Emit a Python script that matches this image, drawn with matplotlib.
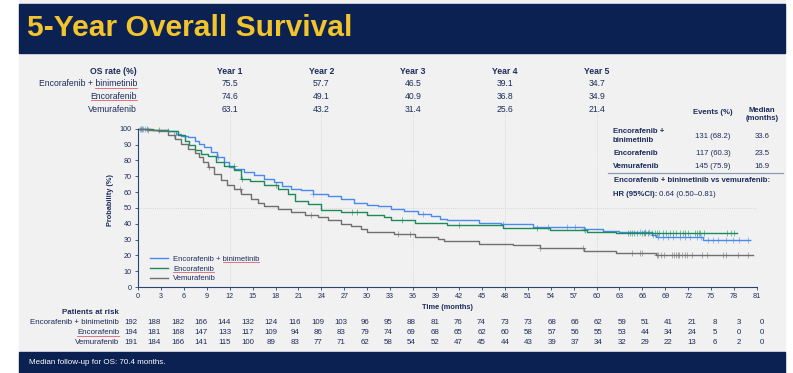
import numpy as np
import matplotlib
matplotlib.use('Agg')
import matplotlib.pyplot as plt
from matplotlib import transforms
from matplotlib.lines import Line2D
from matplotlib.patches import Rectangle

plt.rcParams['font.family'] = ['Liberation Sans', 'DejaVu Sans']

# ---- data ----
arms = ['Encorafenib + binimetinib', 'Encorafenib', 'Vemurafenib']

# Kaplan-Meier steps (months, OS %)
t_combo = [0, 1.7, 3.9, 5.0, 5.6, 6.5, 7.4, 8.0, 8.7, 9.6, 10.4, 11.3, 11.9, 12.6, 13.9,
           15.2, 16.5, 17.8, 18.9, 20.0, 21.3, 22.9, 24.8, 26.6, 28.3, 30.0, 31.4, 33.1,
           34.8, 36.6, 38.3, 39.5, 40.4, 44.6, 47.5, 51.7, 58.3, 60.9, 63.0, 67.2, 67.8,
           73.9, 80.1]
s_combo = [100, 99.5, 98.5, 97.0, 95.4, 94.7, 92.6, 90.5, 88.4, 85.3, 82.1, 79.0, 75.8,
           74.3, 72.6, 70.5, 68.0, 66.3, 63.6, 62.1, 61.1, 58.9, 57.5, 55.8, 53.3, 52.0,
           51.2, 49.5, 47.8, 46.3, 44.6, 42.9, 42.1, 40.6, 39.6, 38.1, 36.6, 35.4, 34.5,
           32.8, 31.4, 29.7, 29.7]

t_enco = [0, 2.0, 3.9, 5.2, 6.1, 6.7, 7.4, 8.2, 9.1, 10.2, 11.3, 12.6, 13.5, 14.6, 16.5,
          18.3, 19.6, 20.5, 22.2, 23.9, 26.6, 30.0, 32.2, 33.1, 36.2, 40.4, 43.4, 47.8,
          53.9, 58.7, 62.6, 78.4]
s_enco = [100, 99.4, 98.5, 95.8, 92.6, 89.5, 86.3, 84.2, 82.7, 78.9, 76.8, 73.7, 68.4,
          66.7, 64.6, 62.1, 58.9, 54.1, 52.6, 48.8, 47.4, 45.7, 44.2, 42.1, 40.6, 39.4,
          39.1, 37.5, 36.0, 34.9, 33.9, 33.9]

t_vemu = [0, 1.3, 2.6, 3.9, 4.8, 5.6, 6.5, 7.4, 8.0, 8.5, 9.1, 10.0, 10.9, 11.7, 12.6,
          13.5, 14.8, 15.7, 16.5, 18.3, 20.0, 21.8, 23.5, 24.8, 26.6, 27.9, 29.2, 30.0,
          33.5, 36.2, 39.2, 40.0, 44.6, 49.1, 52.6, 58.3, 62.6, 67.8, 80.5]
s_vemu = [100, 99.5, 98.9, 95.8, 93.3, 90.5, 87.4, 84.8, 82.1, 78.9, 75.8, 71.6, 67.4,
          64.2, 61.7, 58.9, 55.8, 53.3, 51.2, 49.5, 47.4, 45.7, 44.2, 42.1, 40.0, 38.3,
          36.4, 34.7, 33.7, 31.6, 30.5, 28.8, 27.4, 26.3, 24.6, 22.5, 21.7, 20.1, 20.1]

# censoring times (months)
c_combo = [0.3, 0.6, 0.9, 10.5, 22.9, 37.3, 47.8, 53.7, 56.1, 57.2, 58.3,
           65.7, 66.3, 66.9, 67.4, 68.1, 68.7, 69.4, 70.0, 70.9, 71.6, 72.2, 73.1,
           73.7, 74.6, 75.2, 75.9, 77.0, 77.8, 78.7, 79.8]
c_enco = [0.4, 1.2, 2.7, 3.9, 12.5, 13.6, 18.0, 28.0, 28.6, 34.5, 42.0, 52.2, 58.5,
          64.1, 64.4, 64.6, 64.9, 65.3, 65.9, 66.2, 66.4, 66.7, 67.2, 67.7, 67.9,
          68.2, 68.7, 69.1, 69.6, 70.0, 70.4, 70.9, 71.3, 71.6, 72.0, 72.9, 73.2,
          73.4, 73.6, 74.0, 77.1, 77.6, 78.0]
c_vemu = [0.5, 1.3, 4.7, 9.3, 13.3, 22.6, 34.0, 35.6, 52.6, 58.2,
          64.6, 65.7, 65.9, 67.9, 68.1, 68.4, 68.8, 69.9, 70.1, 70.4, 70.6, 70.8,
          71.2, 71.6, 71.8, 72.5, 73.8, 74.4, 76.6, 77.0, 78.5, 79.8]

# OS rates by year
year_labels = ['Year 1', 'Year 2', 'Year 3', 'Year 4', 'Year 5']
year_months = [12, 24, 36, 48, 60]
os_combo = [75.5, 57.7, 46.5, 39.1, 34.7]
os_enco = [74.6, 49.1, 40.9, 36.8, 34.9]
os_vemu = [63.1, 43.2, 31.4, 25.6, 21.4]

# events / medians
events = ['131 (68.2)', '117 (60.3)', '145 (75.9)']
medians = ['33.6', '23.5', '16.9']

# patients at risk every 3 months
risk_times = list(range(0, 82, 3))
risk_combo = [192, 188, 182, 166, 144, 132, 124, 116, 109, 103, 96, 95, 88, 81, 76, 74,
              73, 73, 68, 66, 62, 59, 51, 41, 21, 8, 3, 0]
risk_enco = [194, 181, 168, 147, 133, 117, 109, 94, 86, 83, 79, 74, 69, 68, 65, 62,
             60, 58, 57, 56, 55, 53, 44, 34, 24, 5, 0, 0]
risk_vemu = [191, 184, 166, 141, 115, 100, 89, 83, 77, 71, 62, 58, 54, 52, 47, 45,
             44, 43, 39, 37, 34, 32, 29, 22, 13, 6, 2, 0]

# ---- style ----
W, H = 793, 373
navy = '#0b2152'
ink = '#1c2c5b'
gold = '#f3c42c'
colors = ['#4a8af0', '#1d8a5c', '#6f6f6f']
fs = 6.2      # OS rate table
fs_r = 5.55   # events table
fs_k = 5.7    # patients at risk


def fx(px):
    return px / W


def fy(py):
    return 1 - py / H


fig = plt.figure(figsize=(W / 100, H / 100), dpi=100)
fig.patch.set_facecolor('white')

# slide background, title bar and footer bar
fig.add_artist(Rectangle((fx(19), 0), fx(785) - fx(19), 1, transform=fig.transFigure,
                         color='#f1f1f1', zorder=-5))
fig.add_artist(Rectangle((fx(19), fy(53)), fx(785) - fx(19), fy(4) - fy(53),
                         transform=fig.transFigure, color=navy, zorder=-4))
fig.add_artist(Rectangle((fx(19), 0), fx(785) - fx(19), fy(352),
                         transform=fig.transFigure, color=navy, zorder=-4))
fig.text(fx(27), fy(35.5), '5-Year Overall Survival', color=gold, fontsize=21.6,
         fontweight='bold', va='baseline')
fig.text(fx(29), fy(362), 'Median follow-up for OS: 70.4 months.', color='white',
         fontsize=5.8, va='center')

# ---- KM plot ----
ax = fig.add_axes([fx(138), fy(287), fx(757) - fx(138), (287 - 113) / H])
ax.set_facecolor('none')
ax.set_xlim(0, 81)
ax.set_ylim(0, 110)
for t in year_months:
    ax.axvline(t, color='#cfcfcf', lw=0.6, ls=(0, (1, 1.5)), zorder=0)
ax.axhline(50, color='#cfcfcf', lw=0.6, ls=(0, (1, 1.5)), zorder=0)

curves = [(t_combo, s_combo, c_combo), (t_enco, s_enco, c_enco), (t_vemu, s_vemu, c_vemu)]
handles = []
for (t, s, c), col, lab in zip(curves, colors, arms):
    t = np.array(t)
    s = np.array(s)
    h, = ax.step(t, s, where='post', color=col, lw=1.0, label=lab)
    handles.append(h)
    idx = np.searchsorted(t, c, side='right') - 1
    ax.plot(c, s[idx], ls='none', marker='+', ms=5, mew=0.7, color=col, alpha=0.55)

for side in ['top', 'right']:
    ax.spines[side].set_visible(False)
for side in ['left', 'bottom']:
    ax.spines[side].set_color('#2d4275')
    ax.spines[side].set_linewidth(0.8)
ax.spines['left'].set_bounds(0, 100)
ax.set_xticks(risk_times)
ax.set_yticks(range(0, 101, 10))
ax.tick_params(length=2.5, width=0.6, colors='#2d4275', labelsize=5.2,
               labelcolor=ink, pad=2)
ax.set_xlabel('Time (months)', fontsize=5.3, fontweight='bold', color=ink, labelpad=3)
ax.set_ylabel('Probability (%)', fontsize=5.3, fontweight='bold', color=ink, labelpad=4)

leg = ax.legend(handles=handles, loc='lower left', bbox_to_anchor=(0.012, 0.0),
                frameon=False, fontsize=5.5, handlelength=2.4, handletextpad=0.6,
                labelspacing=0.3, borderaxespad=0.2, labelcolor=ink)

# ---- OS rate table ----
bt = transforms.blended_transform_factory(ax.transData, fig.transFigure)
fig.text(fx(137), fy(72), 'OS rate (%)', ha='right', va='center', fontsize=fs,
         fontweight='bold', color=ink)
os_labels = []
for lab, row, y in zip(arms, [os_combo, os_enco, os_vemu], [84, 96.5, 109]):
    os_labels.append(fig.text(fx(137), fy(y), lab, ha='right', va='center',
                              fontsize=fs, color=ink))
    for m, v in zip(year_months, row):
        ax.text(m, fy(y), f'{v:.1f}', transform=bt, ha='center', va='center',
                fontsize=fs, color=ink)
for m, yl in zip(year_months, year_labels):
    ax.text(m, fy(72), yl, transform=bt, ha='center', va='center', fontsize=fs,
            fontweight='bold', color=ink)

# ---- events / median table ----
fig.text(fx(713), fy(113), 'Events (%)', ha='center', va='center', fontsize=fs_r,
         fontweight='bold', color=ink)
fig.text(fx(762), fy(114.5), 'Median\n(months)', ha='center', va='center',
         fontsize=fs_r, fontweight='bold', color=ink, linespacing=1.35)
row_names = ['Encorafenib +\nbinimetinib', 'Encorafenib', 'Vemurafenib']
for name, ev, md, y in zip(row_names, events, medians, [136, 153, 166]):
    fig.text(fx(613), fy(y), name, ha='left', va='center', fontsize=fs_r,
             fontweight='bold', color=ink, linespacing=1.45)
    fig.text(fx(713), fy(y), ev, ha='center', va='center', fontsize=fs_r, color=ink)
    fig.text(fx(762), fy(y), md, ha='center', va='center', fontsize=fs_r, color=ink)
fig.add_artist(Line2D([fx(608), fx(783)], [fy(173), fy(173)], transform=fig.transFigure,
                      color='#8c9bb8', lw=0.9))
fig.text(fx(614), fy(181), 'Encorafenib + binimetinib vs vemurafenib:', ha='left',
         va='center', fontsize=fs_r, fontweight='bold', color=ink)
hr = fig.text(fx(613), fy(194), 'HR (95%CI):', ha='left', va='center', fontsize=fs_r,
              fontweight='bold', color=ink)

# ---- patients at risk ----
fig.text(fx(119), fy(313), 'Patients at risk', ha='right', va='center', fontsize=fs_k,
         fontweight='bold', color=ink)
risk_px = np.linspace(131, 762, len(risk_times))
risk_labels = []
for lab, row, y in zip(arms, [risk_combo, risk_enco, risk_vemu], [323, 333, 343]):
    risk_labels.append(fig.text(fx(119), fy(y), lab, ha='right', va='center',
                                fontsize=fs_k, color=ink))
    for px, n in zip(risk_px, row):
        fig.text(fx(px), fy(y), str(n), ha='center', va='center', fontsize=fs_k,
                 color=ink)

# second pass: text placed relative to measured extents
fig.canvas.draw()
r = fig.canvas.get_renderer()
bb = hr.get_window_extent(r)
fig.text(bb.x1 / W, fy(194), ' 0.64 (0.50\u20130.81)', ha='left', va='center',
         fontsize=fs_r, color=ink)


def underline(txt, part):
    box = txt.get_window_extent(r)
    probe = fig.text(0, 0, part, fontproperties=txt.get_fontproperties())
    w = probe.get_window_extent(r).width
    probe.remove()
    x0 = box.x0 if txt.get_text().startswith(part) else box.x1 - w
    y = box.y0 + 0.8
    fig.add_artist(Line2D([x0 / W, (x0 + w) / W], [y / H, y / H],
                          transform=fig.transFigure, color='#e0606a', lw=0.6))


underline(os_labels[0], 'binimetinib')
underline(os_labels[1], 'Encorafenib')
underline(risk_labels[1], 'Encorafenib')
lt = leg.get_texts()
underline(lt[0], 'binimetinib')
underline(lt[1], 'Encorafenib')

fig.savefig('out.png', dpi=100)
